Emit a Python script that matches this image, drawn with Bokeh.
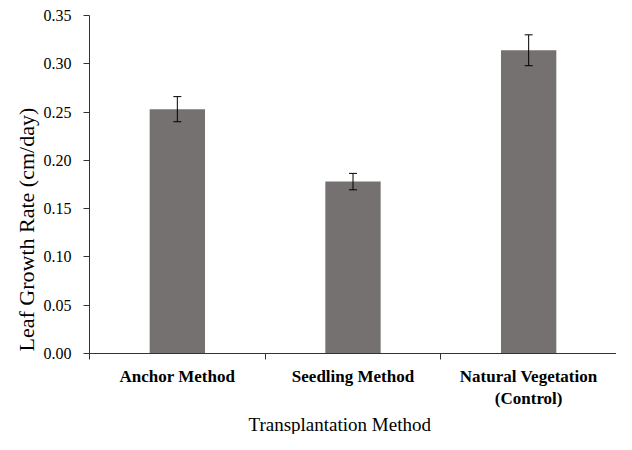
from bokeh.plotting import figure
from bokeh.models import (ColumnDataSource, Range1d, FixedTicker, Whisker, TeeHead,
                          NumeralTickFormatter, CustomJSTickFormatter, Title)
from bokeh.embed import file_html
from bokeh.resources import INLINE

categories = ["Anchor Method", "Seedling Method", "Natural Vegetation\n(Control)"]
growth_rate = [0.253, 0.178, 0.314]
std_error = [0.013, 0.0085, 0.016]
y_ticks = [0.0, 0.05, 0.10, 0.15, 0.20, 0.25, 0.30, 0.35]
x_title = "Transplantation Method"
y_title = "Leaf Growth Rate (cm/day)"

xpos = [i + 0.5 for i in range(len(categories))]
src = ColumnDataSource(dict(
    x=xpos, top=growth_rate,
    upper=[v + e for v, e in zip(growth_rate, std_error)],
    lower=[v - e for v, e in zip(growth_rate, std_error)],
))

FONT = "Liberation Serif"

p = figure(width=616, height=434, output_backend="svg", toolbar_location=None,
           x_range=Range1d(0, len(categories)), y_range=Range1d(0, 0.35),
           min_border_left=89, min_border_right=0, min_border_top=15, min_border_bottom=60)
p.outline_line_color = None
p.grid.grid_line_color = None
p.background_fill_color = "white"
p.border_fill_color = "white"

p.vbar(x="x", top="top", width=0.315, source=src, fill_color="#767171", line_color=None)
p.add_layout(Whisker(source=src, base="x", upper="upper", lower="lower",
                     line_color="black", line_width=1, level="overlay",
                     upper_head=TeeHead(size=8, line_color="black", line_width=1),
                     lower_head=TeeHead(size=8, line_color="black", line_width=1)))

xa = p.xaxis[0]
xa.ticker = FixedTicker(ticks=xpos, minor_ticks=list(range(len(categories) + 1)))
xa.formatter = CustomJSTickFormatter(args=dict(labels=categories),
                                     code="return labels[Math.floor(tick)]")
xa.major_tick_out = 0
xa.major_tick_in = 0
xa.minor_tick_out = 6
xa.minor_tick_in = 0
xa.minor_tick_line_color = "#333333"
xa.axis_line_color = "#333333"
xa.major_label_text_font = FONT
xa.major_label_text_font_style = "bold"
xa.major_label_text_font_size = "17px"
xa.major_label_text_color = "black"
xa.major_label_standoff = 7

ya = p.yaxis[0]
ya.ticker = FixedTicker(ticks=y_ticks)
ya.formatter = NumeralTickFormatter(format="0.00")
ya.major_tick_out = 6
ya.major_tick_in = 0
ya.minor_tick_line_color = None
ya.major_tick_line_color = "#333333"
ya.axis_line_color = "#333333"
ya.major_label_text_font = FONT
ya.major_label_text_font_size = "16px"
ya.major_label_text_color = "black"
ya.major_label_standoff = 12

# axis titles as side-panel titles, positioned like the original
p.add_layout(Title(text=x_title, align="left", offset=159, standoff=0,
                   text_font=FONT, text_font_size="19px", text_font_style="normal",
                   text_color="black"), "below")
p.add_layout(Title(text=y_title, align="left", offset=2, standoff=4,
                   text_font=FONT, text_font_size="22px", text_font_style="normal",
                   text_color="black"), "left")

open("out.html", "w").write(file_html(p, INLINE))
